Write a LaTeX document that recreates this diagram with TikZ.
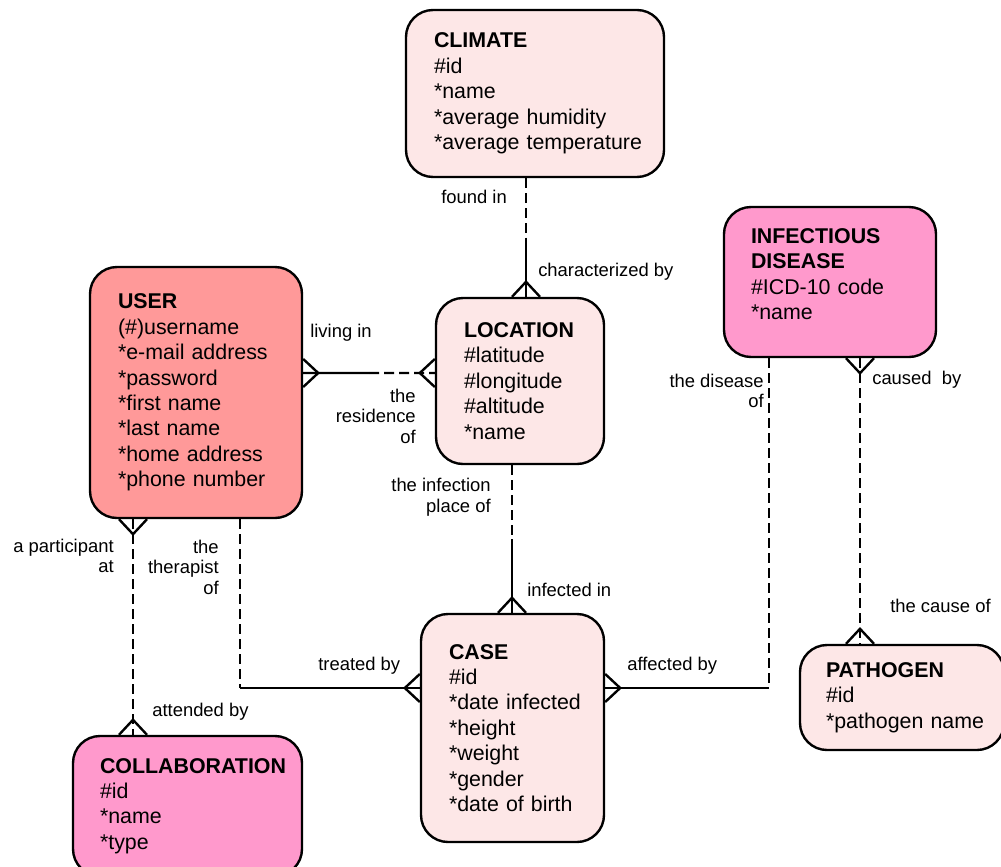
\documentclass[tikz,border=0pt]{standalone}
\usepackage{fontspec}
\setmainfont{Liberation Sans}
\usetikzlibrary{positioning}
\usetikzlibrary{calc}
\newdimen\px
\px=0.025cm
\definecolor{userRed}{HTML}{FF9999}
\definecolor{entityPink}{HTML}{FF99CC}
\definecolor{entityLight}{HTML}{FDE7E7}
\tikzset{
  entity/.style={% rounded entity boxes
    draw,
    line width=1.7pt,
    rounded corners=27\px,
    inner xsep=28\px,
    inner ysep=0pt,
    align=left,
    font=\fontsize{15.2}{18.1}\selectfont,
    execute at begin node={\hyphenpenalty=10000}
  },
  lbl/.style={inner sep=0pt, font=\fontsize{13.1}{14.6}\selectfont},
  rel/.style={line width=1.7pt},
  reldash/.style={rel, dash pattern=on 10\px off 5\px},
  crowfoot/.pic={\draw[rel] (-14,0) -- (0,-15) -- (14,0);}
}

\begin{document}
\begin{tikzpicture}[x=1\px, y=-1\px]
    \useasboundingbox (0,0) rectangle (1001,867);
    % entities
    \node[entity, fill=entityLight, text width=202\px, minimum height=167\px] (clim) at (535,93.5)
        {\textbf{CLIMATE}\\\#id\\{*}name\\{*}average~humidity\\{*}average~temperature};
    \node[entity, fill=entityLight, text width=112\px, minimum height=166\px] (loc) at (520,381)
        {\textbf{LOCATION}\\\#latitude\\\#longitude\\\#altitude\\{*}name};
    \node[entity, fill=userRed, text width=156\px, minimum height=251\px] (user) at (196,392.5)
        {\textbf{USER}\\(\#)username\\{*}e-mail~address\\{*}password\\{*}first~name\\{*}last~name\\{*}home~address\\{*}phone~number};
    \node[entity, fill=entityPink, text width=158\px, inner xsep=27\px, minimum height=150\px] (dis) at (830,282)
        {\textbf{INFECTIOUS}\\\textbf{DISEASE}\\\#ICD-10~code\\{*}name\rule[-16\px]{0pt}{0pt}};
    \node[entity, fill=entityLight, text width=127\px, minimum height=228\px] (case) at (512.5,728)
        {\textbf{CASE}\\\#id\\{*}date~infected\\{*}height\\{*}weight\\{*}gender\\{*}date~of~birth};
    \node[entity, fill=entityLight, text width=152\px, inner xsep=26\px, minimum height=105\px] (patho) at (902,697.5)
        {\textbf{PATHOGEN}\\\#id\\{*}pathogen~name};
    \node[entity, fill=entityPink, text width=175\px, inner xsep=27\px, minimum height=140\px] (collab) at (187.5,806)
        {\textbf{COLLABORATION}\\\#id\\{*}name\\{*}type};

    % connector lines
    \coordinate (xCL) at (526,0);
    \coordinate (yUL) at (0,373);
    \coordinate (xLC) at (512,0);
    \coordinate (xUC) at (133,0);
    \coordinate (xUT) at (240,0);
    \coordinate (yCS) at (0,688);
    \coordinate (xDC) at (769,0);
    \coordinate (xDP) at (860,0);

    \coordinate (clim-s) at (clim.south -| xCL);
    \coordinate (loc-n) at (loc.north -| xCL);
    \coordinate (user-e) at (user.east |- yUL);
    \coordinate (loc-w) at (loc.west |- yUL);
    \coordinate (loc-s) at (loc.south -| xLC);
    \coordinate (case-n) at (case.north -| xLC);
    \coordinate (user-s1) at (user.south -| xUC);
    \coordinate (collab-n) at (collab.north -| xUC);
    \coordinate (user-s2) at (user.south -| xUT);
    \coordinate (case-w) at (case.west |- yCS);
    \coordinate (dis-s1) at (dis.south -| xDC);
    \coordinate (case-e) at (case.east |- yCS);
    \coordinate (dis-s2) at (dis.south -| xDP);
    \coordinate (patho-n) at (patho.north -| xDP);

    \draw[reldash] (clim-s) -- ($(clim-s)!.5!(loc-n)$) coordinate (mCL);
    \draw[rel] (mCL) -- (loc-n);
    \draw[rel] (user-e) -- ($(user-e)!.5!(loc-w)$) coordinate (mUL);
    \draw[reldash] (mUL) -- (loc-w);
    \draw[reldash] (loc-s) -- ($(loc-s)!.5!(case-n)$) coordinate (mLC);
    \draw[rel] (mLC) -- (case-n);
    \draw[reldash] (user-s1) -- (collab-n);
    \draw[reldash] (user-s2) -- (xUT |- yCS) coordinate (kUT);
    \draw[rel] (kUT) -- (case-w);
    \draw[reldash] (dis-s1) -- (xDC |- yCS) coordinate (kDC);
    \draw[rel] (kDC) -- (case-e);
    \draw[reldash] (dis-s2) -- (patho-n);

    % crow's feet
    \foreach \pt/\ang in {loc-n/0, user-e/-90, loc-w/90, case-n/0, user-s1/180,
        collab-n/0, case-w/90, case-e/-90, dis-s2/180, patho-n/0}
        \pic[rotate=\ang] at (\pt) {crowfoot};

    % role labels
    \node[lbl, anchor=west] (l-found) at (441,197) {found in};
    \node[lbl, anchor=west] (l-char) at (538,272) {characterized by};
    \node[lbl, anchor=west] (l-living) at (310,333) {living in};
    \node[lbl, anchor=east, align=right] (l-resid) at (416,416) {the\\residence\\of};
    \node[lbl, anchor=east, align=right] (l-place) at (491,497) {the infection\\place of};
    \node[lbl, anchor=west] (l-infected) at (527,590) {infected in};
    \node[lbl, anchor=east, align=right] (l-part) at (114,556) {a participant\\at};
    \node[lbl, anchor=east, align=right] (l-ther) at (219,567) {the\\therapist\\of};
    \node[lbl, anchor=west] (l-attended) at (152,712) {attended by};
    \node[lbl, anchor=west] (l-treated) at (318,666) {treated by};
    \node[lbl, anchor=west] (l-affected) at (627,666) {affected by};
    \node[lbl, anchor=east, align=right] (l-disease) at (764,391) {the disease\\of};
    \node[lbl, anchor=west] (l-caused) at (872,380) {caused\ \ by};
    \node[lbl, anchor=west] (l-cause) at (890,606) {the cause of};
\end{tikzpicture}
\end{document}
